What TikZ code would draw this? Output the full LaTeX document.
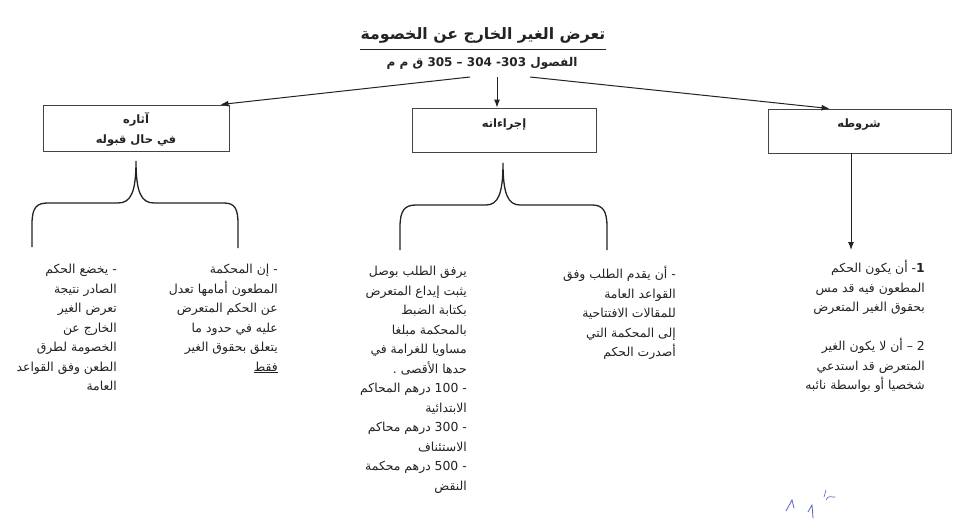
\documentclass[tikz,border=0pt]{standalone}
\usepackage{fontspec}
\setmainfont{DejaVu Sans}
\newfontfamily\arabicfont[Script=Arabic]{DejaVu Sans}
\TeXXeTstate=1
\usetikzlibrary{arrows.meta,calc}
\newcommand\AR[1]{\beginR #1\endR}
\definecolor{ink}{RGB}{35,35,35}
\definecolor{pen}{RGB}{90,100,190}
\begin{document}
\begin{tikzpicture}[x=1pt,y=-1pt,
  box/.style={draw=ink!85, line width=0.9pt, inner sep=0pt},
  boxlabel/.style={font=\arabicfont\bfseries\fontsize{11.5}{20}\selectfont, align=center, inner sep=0pt, text=ink},
  conn/.style={draw=ink, line width=1pt, -{Latex[length=8pt,width=6pt]}},
  brace/.style={draw=ink, line width=1.3pt},
  txt/.style={font=\arabicfont\fontsize{12.4}{19.5}\selectfont, align=right, anchor=north east, inner sep=0pt, text=ink}]
\useasboundingbox (0,0) rectangle (960,522);
\fill[white] (0,0) rectangle (960,522);

% title
\node[font=\arabicfont\bfseries\fontsize{15.7}{20}\selectfont, inner sep=0pt, text=ink] (title) at (483,35) {\AR{تعرض الغير الخارج عن الخصومة}};
\draw[ink, line width=1pt] ($(title.south west)+(0,6)$) -- ($(title.south east)+(0,6)$);
\node[font=\arabicfont\bfseries\fontsize{12}{14}\selectfont, inner sep=0pt, text=ink] (sub) at (482,63) {\AR{الفصول 303\kern0pt- 304 – 305 ق م م}};

\coordinate (sL) at (470,77);
\coordinate (sM) at (497,77);
\coordinate (sR) at (530,77);

% boxes
\node[box, minimum width=186pt, minimum height=46pt] (b1) at (136,128) {};
\node[box, minimum width=184pt, minimum height=44pt] (b2) at (504,130) {};
\node[box, minimum width=183pt, minimum height=44pt] (b3) at (859.5,131) {};
\node[boxlabel] (l1) at (136,129) {\AR{آثاره}\\\AR{في حال قبوله}};
\node[boxlabel] (l2) at (504,125) {\AR{إجراءاته}};
\node[boxlabel] (l3) at (859,125) {\AR{شروطه}};

\draw[conn] (sL) -- ($(b1.north east)+(-9,0)$);
\draw[conn] (sM) -- (sM |- b2.north);
\draw[conn] (sR) -- ($(b3.north west)+(62,0)$);
\coordinate (e3) at (851,250);
\draw[conn] (b3.south -| e3) -- (e3);

% braces
\draw[brace] (32,247) -- (32,224) .. controls (32,207) and (37,203) .. (48,203) -- (118,203)
  .. controls (131,203) and (136,192) .. (136,161)
  .. controls (136,192) and (141,203) .. (154,203) -- (224,203)
  .. controls (235,203) and (238,209) .. (238,224) -- (238,248);
\draw[brace] (400,250) -- (400,227) .. controls (400,210) and (405,205) .. (416,205) -- (486,205)
  .. controls (498,205) and (503,194) .. (503,163)
  .. controls (503,194) and (508,205) .. (520,205) -- (592,205)
  .. controls (603,205) and (607,211) .. (607,227) -- (607,250);

% text blocks
\node[txt] (ta) at (117,264) {\AR{- يخضع الحكم}\\ \AR{الصادر نتيجة}\\ \AR{تعرض الغير}\\ \AR{الخارج عن}\\ \AR{الخصومة لطرق}\\ \AR{الطعن وفق القواعد}\\ \AR{العامة}};
\node[txt] (tb) at (278,264) {\AR{- إن المحكمة}\\ \AR{المطعون أمامها تعدل}\\ \AR{عن الحكم المتعرض}\\ \AR{عليه في حدود ما}\\ \AR{يتعلق بحقوق الغير}\\ \underline{\AR{فقط}}};
\node[txt] (tc) at (467,266) {\AR{يرفق الطلب بوصل}\\ \AR{يثبت إيداع المتعرض}\\ \AR{بكتابة الضبط}\\ \AR{بالمحكمة مبلغا}\\ \AR{مساويا للغرامة في}\\ \AR{حدها الأقصى .}\\ \AR{- 100 درهم المحاكم}\\ \AR{الابتدائية}\\ \AR{- 300 درهم محاكم}\\ \AR{الاستئناف}\\ \AR{- 500 درهم محكمة}\\ \AR{النقض}};
\node[txt] (td) at (676,266) {\AR{- أن يقدم الطلب وفق}\\ \AR{القواعد العامة}\\ \AR{للمقالات الافتتاحية}\\ \AR{إلى المحكمة التي}\\ \AR{أصدرت الحكم}};
\node[txt] (te) at (925,260) {\AR{\textbf{1}- أن يكون الحكم}\\ \AR{المطعون فيه قد مس}\\ \AR{بحقوق الغير المتعرض}\\[19.5pt] \AR{2 – أن لا يكون الغير}\\ \AR{المتعرض قد استدعي}\\ \AR{شخصيا أو بواسطة نائبه}};

% pen marks
\draw[pen, line width=0.8pt, line cap=round] (786,511) -- (792,500) -- (794,508);
\draw[pen, line width=0.8pt, line cap=round] (808,512) -- (812,505) -- (813,518);
\draw[pen, line width=0.6pt, line cap=round] (824,497) -- (826,490) (826,500) .. controls (829,494) and (832,498) .. (835,497);
\end{tikzpicture}
\end{document}
